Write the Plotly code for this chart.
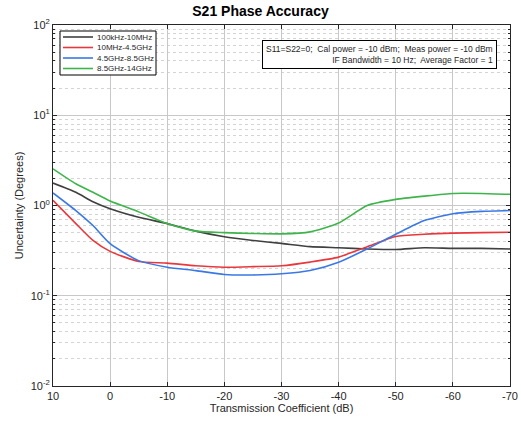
import plotly.graph_objects as go

# Transmission coefficient (dB) sample points
trans_db = [10, 6, 3, 0, -5, -10, -15, -20, -25, -30, -35, -40, -45, -50, -55, -60, -65, -70]

# Phase uncertainty (degrees) per frequency band
band_100k_10m = [1.77, 1.40, 1.10, 0.92, 0.74, 0.63, 0.52, 0.45, 0.41, 0.38, 0.35, 0.34,
                 0.33, 0.325, 0.34, 0.335, 0.335, 0.33]
band_10m_4g5 = [1.14, 0.63, 0.41, 0.31, 0.24, 0.23, 0.215, 0.207, 0.21, 0.215, 0.236, 0.268,
                0.35, 0.454, 0.48, 0.494, 0.50, 0.506]
band_4g5_8g5 = [1.38, 0.88, 0.60, 0.377, 0.245, 0.207, 0.19, 0.172, 0.17, 0.175, 0.19, 0.235,
                0.33, 0.48, 0.68, 0.81, 0.86, 0.88]
band_8g5_14g = [2.55, 1.74, 1.40, 1.12, 0.85, 0.63, 0.52, 0.50, 0.49, 0.485, 0.51, 0.64,
                1.00, 1.17, 1.27, 1.36, 1.36, 1.33]

series_names = ["100kHz-10MHz", "10MHz-4.5GHz", "4.5GHz-8.5GHz", "8.5GHz-14GHz"]
series_values = [band_100k_10m, band_10m_4g5, band_4g5_8g5, band_8g5_14g]
series_colors = ["#404040", "#e8383d", "#3a78e6", "#3db54a"]

x_ticks = [10, 0, -10, -20, -30, -40, -50, -60, -70]
y_ticks = [0.01, 0.1, 1, 10, 100]
y_tick_text = ["10<sup>-2</sup>", "10<sup>-1</sup>", "10<sup>0</sup>", "10<sup>1</sup>", "10<sup>2</sup>"]
y_minor = [m * d for d in (0.01, 0.1, 1, 10) for m in range(2, 10)]

W, H = 521, 421
ML, MR, MT, MB = 53, 11, 25, 35
PW, PH = W - ML - MR, H - MT - MB


def px_x(p):
    return (p - ML) / PW


def px_y(p):
    return 1 - (p - MT) / PH


fig = go.Figure()
for name, vals, col in zip(series_names, series_values, series_colors):
    fig.add_trace(go.Scatter(x=trans_db, y=vals, mode="lines", name=name, showlegend=False,
                             line=dict(color=col, width=1.6, shape="spline", smoothing=0.6)))

font_family = "Liberation Sans, Arial, sans-serif"

fig.update_layout(
    width=W, height=H,
    margin=dict(l=ML, r=MR, t=MT, b=MB),
    paper_bgcolor="white", plot_bgcolor="white",
    font=dict(family=font_family, color="#262626", size=11),
    title=dict(text="<b>S21 Phase Accuracy</b>", x=0.5, xanchor="center",
               y=0.985, yanchor="top", font=dict(size=14, color="#000000")),
    showlegend=False,
)

fig.update_xaxes(
    range=[10, -70], tickvals=x_ticks, ticktext=[str(v) for v in x_ticks],
    showline=True, linecolor="#262626", linewidth=1, mirror="ticks",
    ticks="inside", ticklen=4, tickcolor="#262626", automargin=False,
    showgrid=True, gridcolor="#c8c8c8", gridwidth=1, zeroline=False,
    tickfont=dict(size=11),
    title=dict(text="Transmission Coefficient (dB)", font=dict(size=11), standoff=2),
)

fig.update_yaxes(
    type="log", range=[-2, 2], tickvals=y_ticks, ticktext=y_tick_text,
    showline=True, linecolor="#262626", linewidth=1, mirror="ticks",
    ticks="inside", ticklen=4, tickcolor="#262626", automargin=False,
    showgrid=True, gridcolor="#c8c8c8", gridwidth=1, zeroline=False,
    tickfont=dict(size=11),
    minor=dict(tickvals=y_minor, ticks="inside", ticklen=2, tickcolor="#262626",
               showgrid=True, gridcolor="#d4d4d4", griddash="dot", gridwidth=1),
    title=dict(text="Uncertainty (Degrees)", font=dict(size=11), standoff=4),
)

# Compact boxed legend in the upper-left corner
leg_l, leg_r, leg_t, leg_b = 60, 156, 31, 75
fig.add_shape(type="rect", xref="paper", yref="paper",
              x0=px_x(leg_l), x1=px_x(leg_r), y0=px_y(leg_b), y1=px_y(leg_t),
              line=dict(color="#000000", width=1), fillcolor="white", layer="above")
for i, (name, col) in enumerate(zip(series_names, series_colors)):
    row_y = 37 + i * 10.5
    fig.add_shape(type="line", xref="paper", yref="paper",
                  x0=px_x(63), x1=px_x(93), y0=px_y(row_y), y1=px_y(row_y),
                  line=dict(color=col, width=1.6), layer="above")
    fig.add_annotation(xref="paper", yref="paper", x=px_x(95), y=px_y(row_y),
                       xanchor="left", yanchor="middle", text=name, showarrow=False,
                       font=dict(size=8, color="#262626"))

fig.add_annotation(
    xref="paper", yref="paper", x=px_x(497), y=px_y(40), xanchor="right", yanchor="top",
    text="S11=S22=0;  Cal power = -10 dBm;  Meas power = -10 dBm<br>"
         "IF Bandwidth = 10 Hz;  Average Factor = 1",
    align="right", showarrow=False, font=dict(size=8.5, color="#262626"),
    bgcolor="white", bordercolor="#000000", borderwidth=1, borderpad=3,
)

fig.write_html("out.html")
